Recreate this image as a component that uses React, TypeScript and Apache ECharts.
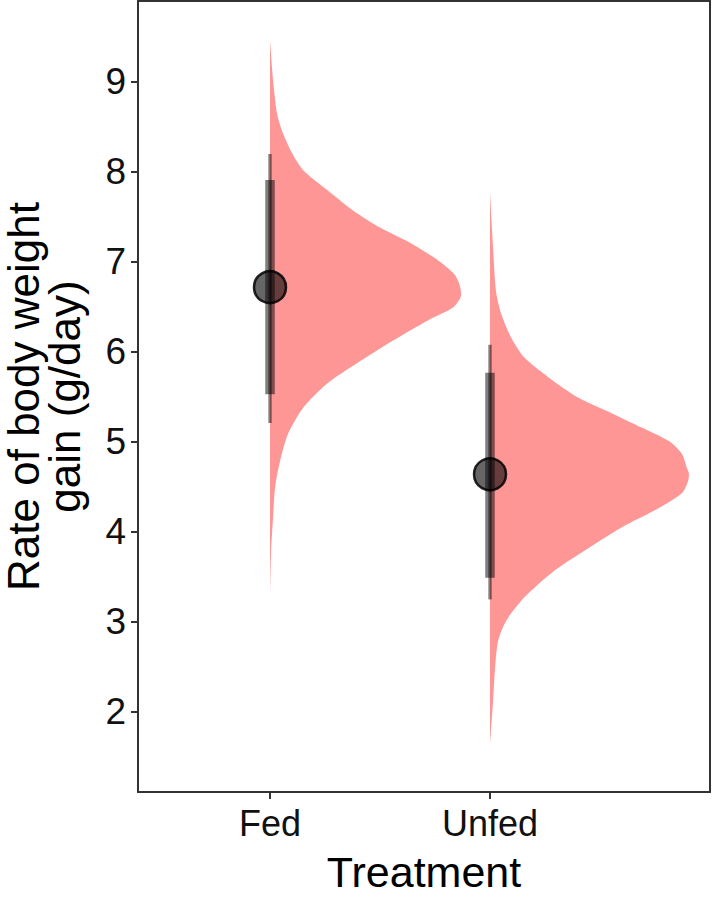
import React, { useEffect, useRef } from "react";
import * as echarts from "echarts";

const categories = ["Fed", "Unfed"];
const categoryPos = [1, 2];
const yTicks = [2, 3, 4, 5, 6, 7, 8, 9];

// slab densities (value on y, scaled height in x units)
const fedVals = [3.27, 3.79, 4.16, 4.49, 4.79, 5.09, 5.38, 5.65, 5.9, 6.13, 6.35, 6.49, 6.62, 6.76, 6.87, 7.02, 7.21, 7.38, 7.57, 7.8, 8.02, 8.21, 8.43, 8.65, 9.02, 9.46];
const fedDens = [0, 0.005, 0.014, 0.023, 0.046, 0.082, 0.151, 0.26, 0.411, 0.562, 0.717, 0.83, 0.868, 0.86, 0.836, 0.763, 0.639, 0.502, 0.379, 0.26, 0.151, 0.1, 0.059, 0.032, 0.014, 0];
const unfedVals = [1.64, 2.12, 2.49, 2.79, 3.01, 3.27, 3.57, 3.82, 4.05, 4.24, 4.43, 4.56, 4.65, 4.71, 4.87, 5.01, 5.16, 5.32, 5.49, 5.72, 5.94, 6.16, 6.43, 6.68, 7.16, 7.77];
const unfedDens = [0, 0.014, 0.023, 0.037, 0.073, 0.155, 0.292, 0.447, 0.598, 0.749, 0.872, 0.9, 0.904, 0.895, 0.872, 0.813, 0.689, 0.553, 0.402, 0.265, 0.155, 0.096, 0.05, 0.027, 0.014, 0];

// point estimates and intervals
const pointEst = [6.72, 4.64];
const thinLow = [5.21, 3.25];
const thinHigh = [8.2, 6.08];
const thickLow = [5.53, 3.49];
const thickHigh = [7.91, 5.77];

const slabVals = [fedVals, unfedVals];
const slabDens = [fedDens, unfedDens];

export default function App() {
  const ref = useRef<HTMLDivElement>(null);
  useEffect(() => {
    if (!ref.current) return;
    const chart = echarts.init(ref.current, null, { renderer: "svg" });
    const font = "Liberation Sans, Arial, Helvetica, sans-serif";
    const option: any = {
      animation: false,
      backgroundColor: "#ffffff",
      grid: {
        left: 138,
        right: 3,
        top: 1,
        bottom: 112,
        containLabel: false,
        outerBoundsMode: "none",
        show: true,
        borderColor: "#333333",
        borderWidth: 2,
        backgroundColor: "transparent",
      },
      xAxis: {
        type: "value",
        min: 0.4,
        max: 3.0,
        splitLine: { show: false },
        axisLine: { show: false },
        axisTick: {
          show: true,
          customValues: categoryPos,
          length: 7,
          lineStyle: { color: "#333333", width: 2 },
        },
        axisLabel: {
          customValues: categoryPos,
          formatter: (v: number) => categories[Math.round(v) - 1] ?? "",
          fontSize: 36,
          fontFamily: font,
          color: "#111111",
          margin: 13,
        },
        name: "Treatment",
        nameLocation: "middle",
        nameGap: 58,
        nameTextStyle: { fontSize: 43, fontFamily: font, color: "#000000" },
      },
      yAxis: {
        type: "value",
        min: 1.11,
        max: 9.9,
        splitLine: { show: false },
        axisLine: { show: false },
        axisTick: {
          show: true,
          customValues: yTicks,
          length: 7,
          lineStyle: { color: "#333333", width: 2 },
        },
        axisLabel: {
          customValues: yTicks,
          fontSize: 37,
          fontFamily: font,
          color: "#111111",
          margin: 12,
        },
        name: "Rate of body weight\ngain (g/day)",
        nameLocation: "middle",
        nameGap: 53,
        nameRotate: 90,
        nameTextStyle: { fontSize: 44, lineHeight: 41, fontFamily: font, color: "#000000", align: "center" },
      },
      series: [
        {
          type: "custom",
          data: categoryPos.map((p, i) => [p, i]),
          renderItem: (params: any, api: any) => {
            const pos = api.value(0);
            const gi = api.value(1);
            const vals = slabVals[gi];
            const dens = slabDens[gi];
            const pts: number[][] = [];
            pts.push(api.coord([pos, vals[0]]));
            for (let k = 0; k < vals.length; k++) {
              pts.push(api.coord([pos + dens[k], vals[k]]));
            }
            pts.push(api.coord([pos, vals[vals.length - 1]]));
            return {
              type: "polygon",
              shape: { points: pts, smooth: 0.25 },
              style: { fill: "#ff9696", stroke: "none" },
            };
          },
          z: 1,
        },
        {
          type: "custom",
          data: categoryPos.map((p, i) => [p, thinLow[i], thinHigh[i], thickLow[i], thickHigh[i]]),
          renderItem: (params: any, api: any) => {
            const pos = api.value(0);
            const a = api.coord([pos, api.value(1)]);
            const b = api.coord([pos, api.value(2)]);
            const c = api.coord([pos, api.value(3)]);
            const d = api.coord([pos, api.value(4)]);
            return {
              type: "group",
              children: [
                {
                  type: "line",
                  shape: { x1: a[0], y1: a[1], x2: b[0], y2: b[1] },
                  style: { stroke: "rgba(0,0,0,0.5)", lineWidth: 3.3 },
                },
                {
                  type: "line",
                  shape: { x1: c[0], y1: c[1], x2: d[0], y2: d[1] },
                  style: { stroke: "rgba(0,0,0,0.5)", lineWidth: 9.5 },
                },
              ],
            };
          },
          z: 2,
        },
        {
          type: "scatter",
          data: categoryPos.map((p, i) => [p, pointEst[i]]),
          symbol: "circle",
          symbolSize: 32,
          itemStyle: {
            color: "rgba(0,0,0,0.6)",
            borderColor: "rgba(0,0,0,0.85)",
            borderWidth: 2.5,
            opacity: 1,
          },
          z: 3,
        },
      ],
    };
    chart.setOption(option);
    return () => chart.dispose();
  }, []);
  return (
    <div
      ref={ref}
      style={{ position: "fixed", left: 0, top: 0, width: 713, height: 904, background: "#fff" }}
    />
  );
}
